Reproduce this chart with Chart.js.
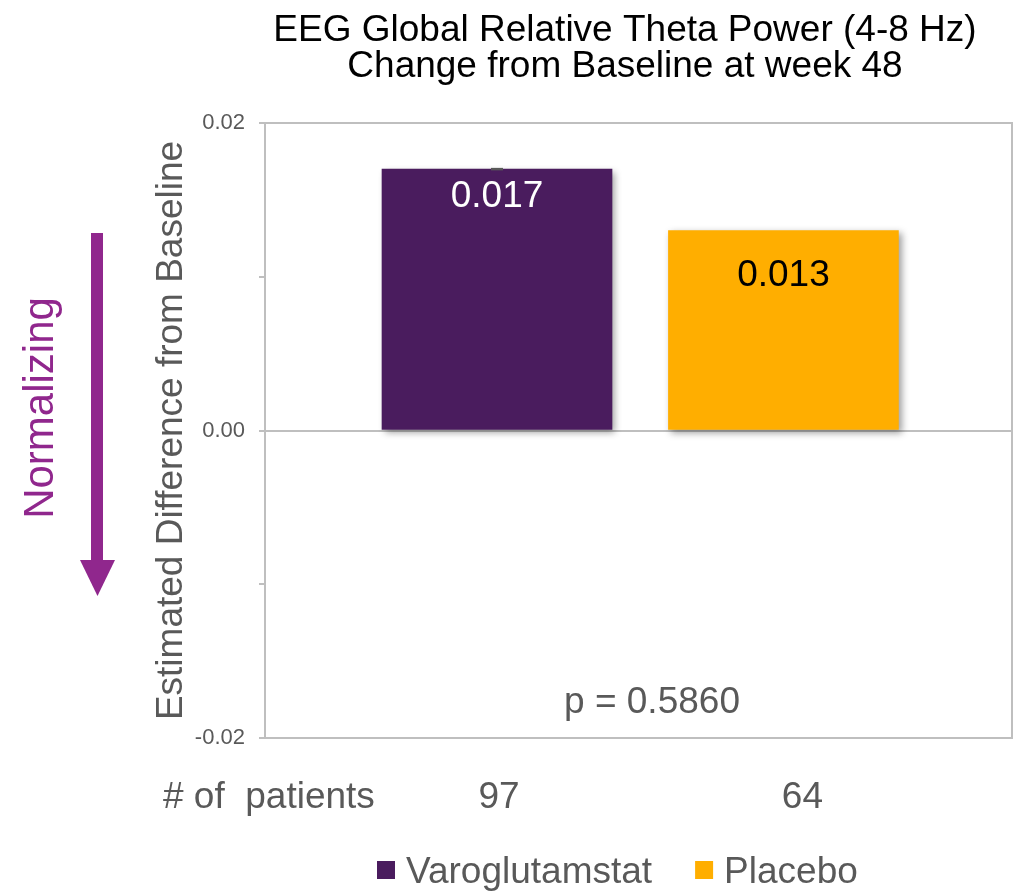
<!DOCTYPE html>
<html>
<head>
<meta charset="utf-8">
<script src="https://cdn.jsdelivr.net/npm/chart.js@4.4.1/dist/chart.umd.min.js"></script>
<style>
  html, body { margin: 0; padding: 0; background: #ffffff; }
  #wrap { width: 1014px; height: 891px; position: relative; }
  canvas { display: block; }
</style>
</head>
<body>
<div id="wrap"><canvas id="chart" width="1014" height="891"></canvas></div>
<script>
// Data
const treatmentGroups = ['Varoglutamstat', 'Placebo'];
const changeFromBaseline = [0.017, 0.013];
const patientCounts = [97, 64];
const yTickValues = [-0.02, -0.01, 0, 0.01, 0.02];
const yTickLabels = ['-0.02', '', '0.00', '', '0.02'];
const chartTitle = ['EEG Global Relative Theta Power (4-8 Hz)', 'Change from Baseline at week 48'];
const yAxisTitle = 'Estimated Difference from Baseline';
const directionLabel = 'Normalizing';
const patientsRowLabel = '# of  patients';
const pValueText = 'p = 0.5860';

// Styling
const FONT = "'Liberation Sans', Arial, Helvetica, sans-serif";
const GRAY_TEXT = '#595959';
const FRAME = '#BFBFBF';
const groupColors = ['#4A1C5E', '#FFAE00'];
const valueLabelColors = ['#FFFFFF', '#000000'];
const valueLabelDrop = [38, 55];      // baseline distance below bar top
const showErrorCap = [true, false];
const countNudge = [2, 19];
const ACCENT = '#90278D';

Chart.defaults.font.family = FONT;

const barExtras = {
  id: 'barExtras',
  beforeDatasetDraw(chart) {
    const ctx = chart.ctx;
    ctx.save();
    ctx.shadowColor = 'rgba(0,0,0,0.38)';
    ctx.shadowBlur = 7;
    ctx.shadowOffsetX = 3;
    ctx.shadowOffsetY = 3;
  },
  afterDatasetDraw(chart) {
    chart.ctx.restore();
  },
  afterDatasetsDraw(chart) {
    const ctx = chart.ctx;
    chart.data.datasets.forEach((ds, i) => {
      const bar = chart.getDatasetMeta(i).data[0];
      if (!bar) return;
      ctx.save();
      if (showErrorCap[i]) {
        ctx.strokeStyle = '#595959';
        ctx.lineWidth = 2.5;
        ctx.beginPath();
        ctx.moveTo(bar.x - 6, bar.y);
        ctx.lineTo(bar.x + 6, bar.y);
        ctx.stroke();
      }
      ctx.font = '37px ' + FONT;
      ctx.fillStyle = valueLabelColors[i];
      ctx.textAlign = 'center';
      ctx.textBaseline = 'alphabetic';
      ctx.fillText(changeFromBaseline[i].toFixed(3), bar.x, bar.y + valueLabelDrop[i]);
      ctx.restore();
    });
  },
  afterDraw(chart) {
    const ctx = chart.ctx;
    const area = chart.chartArea;
    const xs = chart.scales.x;
    ctx.save();

    // right edge of the plot frame
    ctx.strokeStyle = FRAME;
    ctx.lineWidth = 2;
    ctx.beginPath();
    ctx.moveTo(area.right, area.top - 1);
    ctx.lineTo(area.right, area.bottom + 1);
    ctx.stroke();

    // title
    ctx.fillStyle = '#000000';
    ctx.font = '37px ' + FONT;
    ctx.textAlign = 'center';
    ctx.textBaseline = 'alphabetic';
    ctx.fillText(chartTitle[0], 625, 41);
    ctx.fillText(chartTitle[1], 625, 77);

    // direction hint: rotated word and downward arrow
    ctx.save();
    ctx.translate(53, 408);
    ctx.rotate(-Math.PI / 2);
    ctx.fillStyle = ACCENT;
    ctx.font = '42px ' + FONT;
    ctx.textAlign = 'center';
    ctx.fillText(directionLabel, 0, 0);
    ctx.restore();

    ctx.fillStyle = ACCENT;
    ctx.fillRect(91, 233, 12, 328);
    ctx.beginPath();
    ctx.moveTo(80, 560);
    ctx.lineTo(115, 560);
    ctx.lineTo(97.5, 596);
    ctx.closePath();
    ctx.fill();

    // p-value
    ctx.fillStyle = GRAY_TEXT;
    ctx.font = '37px ' + FONT;
    ctx.textAlign = 'center';
    ctx.fillText(pValueText, 652, 713);

    // patients row
    ctx.textAlign = 'left';
    ctx.fillText(patientsRowLabel, 163, 808);
    ctx.textAlign = 'center';
    patientCounts.forEach((n, i) => {
      ctx.fillText(String(n), xs.getPixelForValue(i) + countNudge[i], 808);
    });

    // legend
    let lx = 377;
    const ly = 883;
    treatmentGroups.forEach((name, i) => {
      ctx.fillStyle = groupColors[i];
      ctx.fillRect(lx, 861, 18, 18);
      ctx.fillStyle = GRAY_TEXT;
      ctx.textAlign = 'left';
      ctx.fillText(name, lx + 29, ly);
      lx += 29 + ctx.measureText(name).width + 43;
    });

    ctx.restore();
  }
};

new Chart(document.getElementById('chart'), {
  type: 'bar',
  data: {
    datasets: treatmentGroups.map((name, i) => ({
      label: name,
      data: [{ x: i, y: changeFromBaseline[i] }],
      backgroundColor: groupColors[i],
      borderWidth: 0,
      barThickness: 230,
      grouped: false
    }))
  },
  options: {
    responsive: false,
    animation: false,
    devicePixelRatio: 1,
    layout: { padding: { top: 123, left: 148, right: 2, bottom: 153 } },
    plugins: {
      legend: { display: false },
      title: { display: false },
      tooltip: { enabled: false }
    },
    scales: {
      x: {
        type: 'linear',
        display: false,
        offset: false,
        min: -0.81,
        max: 1.798
      },
      y: {
        min: -0.02,
        max: 0.02,
        afterFit(scale) { scale.width = 117; },
        afterBuildTicks(scale) { scale.ticks = yTickValues.map(v => ({ value: v })); },
        ticks: {
          color: GRAY_TEXT,
          font: { size: 22 },
          padding: 14,
          callback(value, index) { return yTickLabels[index]; }
        },
        grid: {
          color(ctx) {
            const v = ctx.tick ? ctx.tick.value : null;
            return (v === 0 || v === 0.02 || v === -0.02) ? FRAME : 'rgba(0,0,0,0)';
          },
          tickColor: FRAME,
          lineWidth: 2,
          tickLength: 6,
          drawTicks: true
        },
        border: { display: true, color: FRAME, width: 2 },
        title: {
          display: true,
          text: yAxisTitle,
          color: GRAY_TEXT,
          font: { size: 37 },
          padding: { top: 2, bottom: 0 }
        }
      }
    }
  },
  plugins: [barExtras]
});
</script>
</body>
</html>
